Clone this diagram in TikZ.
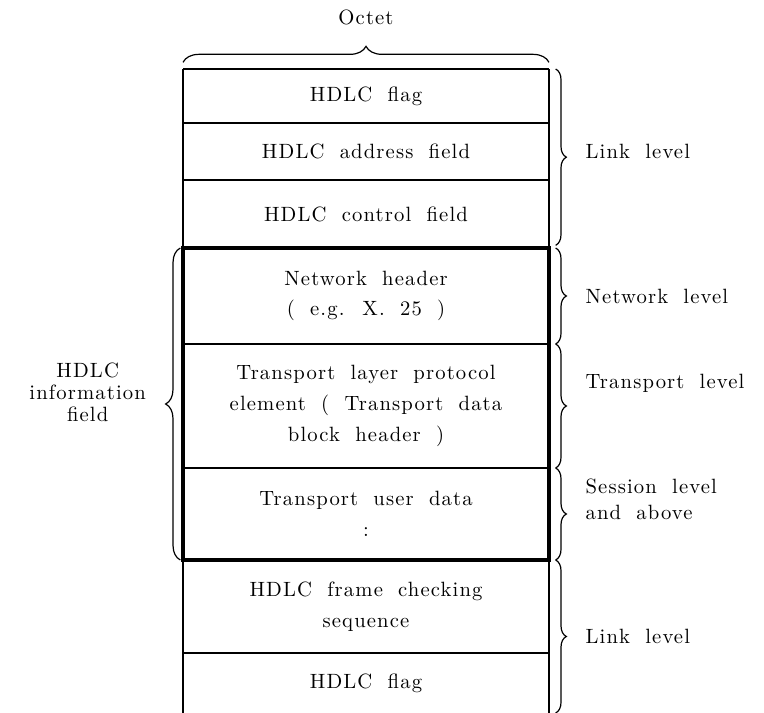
\documentclass[tikz,border=0pt]{standalone}
\usepackage{fontspec}
\setmainfont{lmroman10-regular.otf}[LetterSpace=5.5,WordSpace=1.9]
\usetikzlibrary{positioning,decorations.pathreplacing}
\newcommand\hdlcfont[1]{\fontsize{15.5}{#1}\selectfont}

\begin{document}
\begin{tikzpicture}[
  x=0.75pt,y=-0.75pt,
  font=\hdlcfont{23},
  field/.style={minimum width=274.5pt,inner sep=0pt,outer sep=0pt,align=center},
  rule/.style={line width=1.2pt},
  frame/.style={line width=3.6pt,line join=miter},
  bracer/.style={decorate,decoration={brace,amplitude=8pt},line width=0.9pt},
  bracet/.style={decorate,decoration={brace,amplitude=12pt},line width=0.9pt},
  bracel/.style={decorate,decoration={brace,amplitude=11pt},line width=0.9pt},
  lvl/.style={align=left,inner sep=0pt}
]
\useasboundingbox (0,0) rectangle (764,713);

% Frame rows, top to bottom
\node[field,minimum height=40.5pt] (flaga) at (366,96) {HDLC flag};
\node[field,minimum height=42.75pt,below=0pt of flaga] (addr) {HDLC address field};
\node[field,minimum height=51pt,below=0pt of addr] (ctrl) {HDLC control field};
\node[field,minimum height=72pt,below=0pt of ctrl] (net) {Network header\\( e.g. X. 25 )};
\node[field,minimum height=93pt,below=0pt of net] (trans)
  {Transport layer protocol\\element ( Transport data\\block header )};
\node[field,minimum height=69pt,below=0pt of trans] (user) {Transport user data\\:};
\node[field,minimum height=69.75pt,below=0pt of user] (fcs) {HDLC frame checking\\sequence};
\node[field,minimum height=45pt,below=0pt of fcs] (flagb) {HDLC flag};

\foreach \r in {flaga,addr,ctrl,net,trans,user,fcs,flagb} {
  \draw[rule] (\r.north west) -- (\r.north east);
}
\draw[rule] (flaga.north west) -- (flagb.south west);
\draw[rule] (flaga.north east) -- (flagb.south east);

% Information field in heavy outline
\draw[frame] (net.north west) rectangle (user.south east);

% Octet width
\draw[bracet] ([yshift=5pt]flaga.north west) -- ([yshift=5pt]flaga.north east)
  node[midway,above=24pt] (octet) {Octet};

% Levels on the right
\draw[bracer] ([xshift=5pt]flaga.north east) -- ([xshift=5pt,yshift=2pt]ctrl.south east)
  node[lvl,midway,right=22pt,yshift=4pt] (linka) {Link level};
\draw[bracer] ([xshift=5pt]net.north east) -- ([xshift=5pt]net.south east)
  node[lvl,midway,right=22pt] (netlvl) {Network level};
\draw[bracer] ([xshift=5pt]trans.north east) -- ([xshift=5pt]trans.south east)
  node[lvl,midway,right=22pt,yshift=17pt] (translvl) {Transport level};
\draw[bracer] ([xshift=5pt]user.north east) -- ([xshift=5pt]user.south east)
  node[lvl,midway,right=22pt,yshift=11pt,font=\hdlcfont{19}] (sesslvl) {Session level\\and above};
\draw[bracer] ([xshift=5pt]fcs.north east) -- ([xshift=5pt]flagb.south east)
  node[lvl,midway,right=22pt] (linkb) {Link level};

% Information field on the left
\draw[bracel] ([xshift=-2pt]user.south west) -- ([xshift=-2pt]net.north west)
  node[midway,left=22pt,yshift=9pt,align=center,font=\hdlcfont{16.5}] (info) {HDLC\\information\\field};

\end{tikzpicture}
\end{document}
